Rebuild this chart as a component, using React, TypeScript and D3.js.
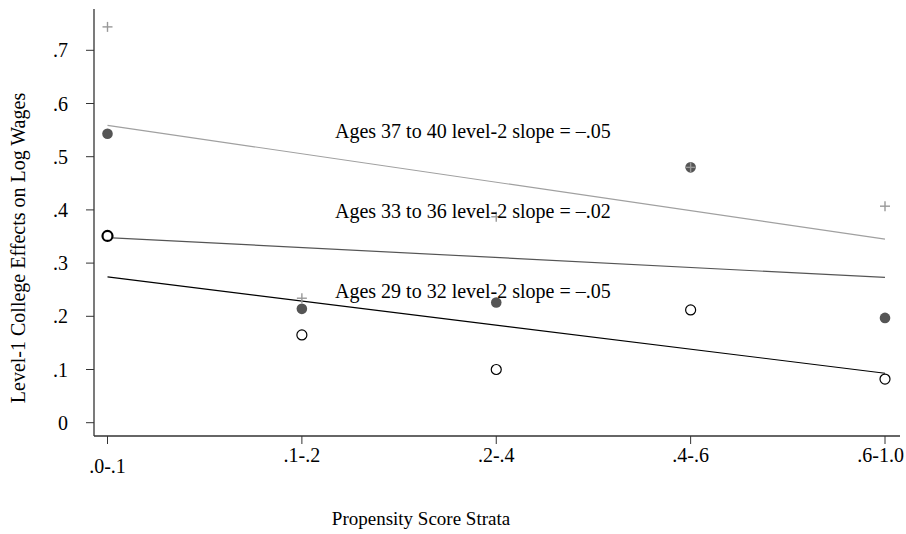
import React from "react";
import * as d3 from "d3";

const strata = [".0-.1", ".1-.2", ".2-.4", ".4-.6", ".6-1.0"];
const yTicks = [0, 0.1, 0.2, 0.3, 0.4, 0.5, 0.6, 0.7];
const ages37to40 = [0.744, 0.234, 0.387, 0.48, 0.407];
const ages33to36 = [0.543, 0.214, 0.226, 0.48, 0.197];
const ages29to32 = [0.351, 0.165, 0.1, 0.212, 0.082];
const fit37to40 = [0.559, 0.345];
const fit33to36 = [0.348, 0.273];
const fit29to32 = [0.274, 0.093];
const labels = [
  { text: "Ages 37 to 40 level-2 slope = \u2013.05", y: 0.545 },
  { text: "Ages 33 to 36 level-2 slope = \u2013.02", y: 0.395 },
  { text: "Ages 29 to 32 level-2 slope = \u2013.05", y: 0.245 },
];

export default function App() {
  const W = 906, H = 534;
  const x = d3.scalePoint<string>().domain(strata).range([107.5, 885]);
  const y = d3.scaleLinear().domain([0, 0.7]).range([422.7, 50.3]);
  const font = "'Liberation Serif', 'Times New Roman', serif";
  const axisX0 = 94, axisY0 = 436, axisX1 = 900;
  const line = (v: number[]) => {
    const g = d3.line<number>().x((_, i) => (i === 0 ? x(strata[0])! : x(strata[4])!)).y((d) => y(d));
    return g(v) || "";
  };
  return (
    <svg width={W} height={H} style={{ position: "absolute", left: 0, top: 0, background: "#fff" }} fontFamily={font}>
      <rect width={W} height={H} fill="#fff" />
      {/* axes */}
      <line x1={axisX0} y1={9} x2={axisX0} y2={axisY0} stroke="#333" strokeWidth={1.3} />
      <line x1={axisX0} y1={axisY0} x2={axisX1} y2={axisY0} stroke="#333" strokeWidth={1.3} />
      {yTicks.map((t) => (
        <g key={t}>
          <line x1={axisX0 - 8} x2={axisX0} y1={y(t)} y2={y(t)} stroke="#333" strokeWidth={1} />
          <text x={68} y={y(t) + 7} textAnchor="end" fontSize={20} fill="#000">
            {t === 0 ? "0" : d3.format(".1f")(t).replace(/^0/, "")}
          </text>
        </g>
      ))}
      {strata.map((s, i) => (
        <g key={s}>
          <line x1={x(s)} x2={x(s)} y1={axisY0} y2={axisY0 + 8} stroke="#333" strokeWidth={1} />
          <text
            x={i === 4 ? 904 : x(s)}
            y={i === 0 ? 473 : 462}
            textAnchor={i === 4 ? "end" : "middle"}
            fontSize={20}
            fill="#000"
          >
            {s}
          </text>
        </g>
      ))}
      <text x={421} y={525} textAnchor="middle" fontSize={19} fill="#000">Propensity Score Strata</text>
      <text transform={`translate(25,248) rotate(-90)`} textAnchor="middle" fontSize={20} fill="#000">
        Level-1 College Effects on Log Wages
      </text>
      {/* fit lines */}
      <path d={line(fit37to40)} stroke="#a0a0a0" strokeWidth={1.2} fill="none" />
      <path d={line(fit33to36)} stroke="#555" strokeWidth={1.2} fill="none" />
      <path d={line(fit29to32)} stroke="#000" strokeWidth={1.2} fill="none" />
      {/* markers */}
      {ages33to36.map((v, i) => (
        <circle key={"f" + i} cx={x(strata[i])} cy={y(v)} r={5.3} fill="#555" />
      ))}
      {ages29to32.map((v, i) => (
        <circle key={"o" + i} cx={x(strata[i])} cy={y(v)} r={5} fill="#fff" stroke="#000" strokeWidth={i === 0 ? 2.2 : 1.2} />
      ))}
      {ages37to40.map((v, i) => (
        <g key={"p" + i} stroke="#999" strokeWidth={1.4}>
          <line x1={x(strata[i])! - 5} x2={x(strata[i])! + 5} y1={y(v)} y2={y(v)} />
          <line x1={x(strata[i])} x2={x(strata[i])} y1={y(v) - 5} y2={y(v) + 5} />
        </g>
      ))}
      {labels.map((l) => (
        <text key={l.text} x={335} y={y(l.y) + 5.5} fontSize={20} fill="#000">
          {l.text}
        </text>
      ))}
    </svg>
  );
}
